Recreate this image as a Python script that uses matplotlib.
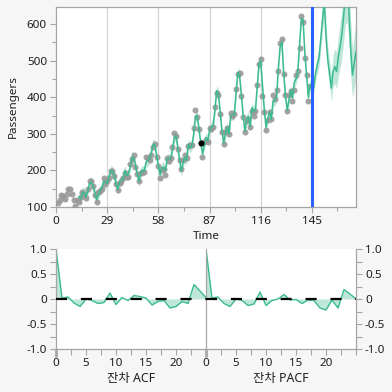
import matplotlib
matplotlib.use('Agg')
import matplotlib.pyplot as plt
from matplotlib.ticker import FixedLocator

plt.rcParams['font.family'] = ['Noto Sans', 'Noto Sans CJK KR', 'DejaVu Sans']

# ---------------- data ----------------
time_obs = list(range(1, 145))
passengers = [
    112, 118, 132, 129, 121, 135, 148, 148, 136, 119, 104, 118,
    115, 126, 141, 135, 125, 149, 170, 170, 158, 133, 114, 140,
    145, 150, 178, 163, 172, 178, 199, 199, 184, 162, 146, 166,
    171, 180, 193, 181, 183, 218, 230, 242, 209, 191, 172, 194,
    196, 196, 236, 235, 229, 243, 264, 272, 237, 211, 180, 201,
    204, 188, 235, 227, 234, 264, 302, 293, 259, 229, 203, 229,
    242, 233, 267, 269, 270, 315, 364, 347, 312, 274, 237, 278,
    284, 277, 317, 313, 318, 374, 413, 405, 355, 306, 271, 306,
    315, 301, 356, 348, 355, 422, 465, 467, 404, 347, 305, 336,
    340, 318, 362, 348, 363, 435, 491, 505, 404, 359, 310, 337,
    360, 342, 406, 396, 420, 472, 548, 559, 463, 407, 362, 405,
    417, 391, 419, 461, 472, 535, 622, 606, 508, 461, 390, 432,
]

time_fit = list(range(13, 145))
fitted = [
    128, 122, 140, 140, 128, 143, 165, 168, 157, 138, 120, 134,
    146, 152, 170, 168, 165, 182, 200, 198, 186, 165, 148, 168,
    172, 176, 200, 186, 190, 208, 236, 235, 215, 190, 170, 194,
    200, 198, 222, 228, 230, 250, 272, 270, 240, 212, 188, 208,
    208, 200, 232, 232, 232, 258, 290, 295, 262, 228, 198, 222,
    236, 228, 272, 262, 268, 300, 348, 350, 312, 277, 245, 268,
    290, 282, 310, 318, 322, 362, 418, 410, 360, 310, 275, 300,
    318, 300, 350, 352, 352, 410, 468, 460, 408, 352, 308, 338,
    348, 320, 372, 362, 365, 426, 490, 500, 430, 368, 318, 342,
    360, 340, 390, 390, 402, 480, 540, 552, 468, 405, 365, 392,
    420, 398, 440, 450, 468, 540, 615, 612, 520, 458, 400, 435,
]
fit_band = 14

time_fc = list(range(145, 171))
forecast = [434, 425, 462, 489, 507, 557, 612, 662, 566, 502, 466, 425, 470,
            484, 470, 511, 539, 572, 622, 680, 690, 639, 530, 461, 493, 525]
fc_lower = [426, 410, 444, 466, 482, 527, 578, 622, 530, 468, 432, 390, 428,
            438, 423, 458, 481, 508, 550, 600, 606, 558, 461, 399, 425, 451]
fc_upper = [442, 440, 482, 512, 534, 588, 648, 705, 603, 538, 502, 462, 515,
            533, 522, 568, 602, 642, 700, 768, 782, 728, 607, 530, 570, 608]

highlight_time = 82
highlight_value = 274
forecast_origin = 145

x_ticks_main = [0, 29, 58, 87, 116, 145]
y_ticks_main = [100, 200, 300, 400, 500, 600]

lags = list(range(0, 26))
acf_values = [1.0, 0.02, 0.04, -0.08, -0.15, 0.0, -0.03, -0.09, -0.07, 0.12,
              -0.11, 0.03, -0.03, 0.07, 0.05, 0.02, -0.12, -0.05, -0.03, -0.18,
              -0.15, -0.05, -0.09, 0.29, 0.16, 0.03]
pacf_values = [1.0, 0.02, 0.04, -0.09, -0.15, 0.0, -0.03, -0.13, -0.10, 0.14,
               -0.13, -0.03, 0.0, 0.09, -0.02, -0.01, -0.09, -0.02, -0.03, -0.18,
               -0.22, -0.02, -0.18, 0.19, 0.10, 0.0]
lag_tick_labels = [0, 5, 10, 15, 20]
corr_ticks = [-1.0, -0.5, 0, 0.5, 1.0]
corr_tick_labels = ['-1.0', '-0.5', '0', '0.5', '1.0']

# ---------------- style ----------------
W = H = 392
BG = '#f6f6f6'
SPINE = '#a6a6a6'
LINE_GREEN = '#3dbb90'
BAND_GREEN = '#bfe7d8'
TXT = '#1e1e1e'
FS = 8.4

fig = plt.figure(figsize=(W / 100, H / 100), dpi=100, facecolor=BG)


def frac(l, t, r, b):
    return [l / W, 1 - b / H, (r - l) / W, (b - t) / H]


# ---------------- main plot ----------------
ax = fig.add_axes(frac(56, 7, 356, 207))
ax.set_facecolor('white')
t_all = time_fit + time_fc
line_all = fitted + forecast
lower_all = [v - fit_band for v in fitted] + fc_lower
upper_all = [v + fit_band for v in fitted] + fc_upper
ax.fill_between(t_all, lower_all, upper_all, color=BAND_GREEN, lw=0, zorder=1)
ax.plot(t_all, line_all, color=LINE_GREEN, lw=1.1, zorder=4)
ax.scatter(time_obs, passengers, s=19, color='#999999', alpha=0.9, lw=0, zorder=3)
ax.scatter([highlight_time], [highlight_value], s=19, color='black', lw=0, zorder=5)
ax.axvline(forecast_origin, color='#2962ff', lw=2.2, zorder=6)
for xt in x_ticks_main[1:-1]:
    ax.axvline(xt, color='#d4d4d4', lw=0.9, zorder=0)

ax.set_xlim(0, 170)
ax.set_ylim(100, 647)
ax.xaxis.set_major_locator(FixedLocator(x_ticks_main))
ax.xaxis.set_minor_locator(FixedLocator([x + 14.5 for x in x_ticks_main]))
ax.yaxis.set_major_locator(FixedLocator(y_ticks_main))
ax.yaxis.set_minor_locator(FixedLocator([y + 50 for y in y_ticks_main]))
ax.tick_params(which='both', direction='out', color=SPINE, labelcolor=TXT,
               labelsize=FS)
ax.tick_params(which='major', length=4, width=0.8, pad=2.5)
ax.tick_params(which='minor', length=3, width=0.8)
for s in ax.spines.values():
    s.set_color(SPINE)
    s.set_linewidth(0.9)
ax.set_xlabel('Time', fontsize=FS, color=TXT, labelpad=3)
ax.set_ylabel('Passengers', fontsize=FS, color=TXT, labelpad=6)

# ---------------- ACF / PACF ----------------
ax1 = fig.add_axes(frac(56, 249, 206, 349))
ax2 = fig.add_axes(frac(206, 249, 356, 349))

for a, vals, lab in [(ax1, acf_values, '잔차 ACF'), (ax2, pacf_values, '잔차 PACF')]:
    a.set_facecolor('white')
    a.fill_between(lags, vals, 0, color=BAND_GREEN, lw=0, zorder=1)
    a.plot(lags, vals, color=LINE_GREEN, lw=1.0, zorder=2)
    a.axhline(0, color='black', lw=1.6, linestyle=(0, (5.0, 6.2)), zorder=3)
    a.set_xlim(0, 25)
    a.set_ylim(-1, 1)
    a.xaxis.set_major_locator(FixedLocator(lag_tick_labels))
    a.xaxis.set_minor_locator(FixedLocator([2.5, 7.5, 12.5, 17.5, 22.5, 25]))
    a.yaxis.set_major_locator(FixedLocator(corr_ticks))
    a.yaxis.set_minor_locator(FixedLocator([-0.75, -0.25, 0.25, 0.75]))
    a.set_yticklabels(corr_tick_labels)
    a.tick_params(which='both', direction='out', color=SPINE, labelcolor=TXT,
                  labelsize=FS)
    a.tick_params(which='major', length=4, width=0.8, pad=2.5)
    a.tick_params(which='minor', length=4, width=0.8)
    a.spines['top'].set_visible(False)
    for s in a.spines.values():
        s.set_color(SPINE)
        s.set_linewidth(0.9)
    a.set_xlabel(lab, fontsize=FS + 0.5, color=TXT, labelpad=2)
    t0 = a.xaxis.get_major_ticks()[0]
    t0.tick1line.set_color('black')
    t0.tick1line.set_markeredgewidth(2.0)
    t0.tick1line.set_markersize(6)

ax1.spines['right'].set_visible(False)
ax2.yaxis.tick_right()
ax2.tick_params(axis='y', which='both', left=False, right=True, labelright=True,
                labelleft=False)

fig.savefig('out.png', dpi=100, facecolor=BG)
